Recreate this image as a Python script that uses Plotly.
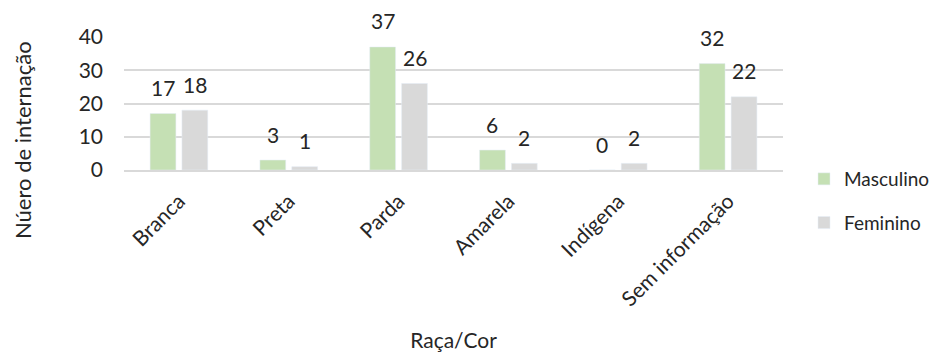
import plotly.graph_objects as go

categorias = ["Branca", "Preta", "Parda", "Amarela", "Indígena", "Sem informação"]
masculino = [17, 3, 37, 6, 0, 32]
feminino = [18, 1, 26, 2, 2, 22]
y_ticks = [0, 10, 20, 30, 40]

VERDE = "#c5e0b4"
CINZA = "#d9d9d9"
TEXTO = "#262626"
FONTE = "Lato, 'Open Sans', sans-serif"

W, H = 946, 354
ML, MR, MT, MB = 124, 163, 37, 184
PW, PH = W - ML - MR, H - MT - MB

fig = go.Figure()
fig.add_trace(go.Bar(name="Masculino", x=categorias, y=masculino,
                     marker_color=VERDE, offsetgroup="m", legendgroup="m"))
fig.add_trace(go.Bar(name="Feminino", x=categorias, y=feminino,
                     marker_color=CINZA, offsetgroup="f", legendgroup="f"))

# value labels above each bar
for cat, m, f in zip(categorias, masculino, feminino):
    for val, dx in ((m, -16), (f, 16)):
        fig.add_annotation(x=cat, y=val, text=str(val), showarrow=False,
                           xshift=dx, yshift=26, yanchor="middle",
                           font=dict(size=21, color=TEXTO, family=FONTE))

# y-axis title, centred on the chart height
fig.add_annotation(
    xref="paper", yref="paper",
    x=(22 - ML) / PW, y=((H - MB) - 140) / PH,
    text="Núero de internação", textangle=-90, showarrow=False,
    xanchor="center", yanchor="middle",
    font=dict(size=22, color=TEXTO, family=FONTE),
)

fig.update_layout(
    width=W, height=H,
    margin=dict(l=ML, r=MR, t=MT, b=MB, autoexpand=False),
    paper_bgcolor="white", plot_bgcolor="white",
    barmode="group", bargap=0.42, bargroupgap=0.19,
    font=dict(family=FONTE, color=TEXTO, size=20),
    showlegend=True,
    legend=dict(xref="container", yref="container",
                x=804 / W, y=1 - 160 / H, xanchor="left", yanchor="top",
                font=dict(size=19, color=TEXTO, family=FONTE),
                itemwidth=30, tracegroupgap=16, traceorder="grouped"),
)
fig.update_xaxes(
    type="category", tickangle=-45, showgrid=False,
    showline=True, linecolor=CINZA, linewidth=1.5,
    ticks="", ticklabelstandoff=9, tickfont=dict(size=21, color=TEXTO),
    title=dict(text="Raça/Cor", font=dict(size=21, color=TEXTO), standoff=24),
)
fig.update_yaxes(
    range=[0, 40], tickvals=y_ticks, showgrid=True, gridcolor=CINZA,
    gridwidth=1.5, zeroline=False, showline=False, ticks="",
    ticklabelstandoff=20,
    tickfont=dict(size=21, color=TEXTO),
)

fig.write_html("out.html")
